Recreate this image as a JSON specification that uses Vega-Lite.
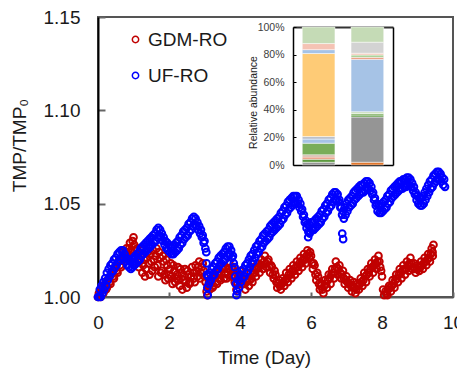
{
  "$schema": "https://vega.github.io/schema/vega-lite/v6.json",
  "autosize": "none",
  "width": 355,
  "height": 280,
  "padding": {"left": 98, "top": 17, "right": 4, "bottom": 72},
  "background": "white",
  "config": {
    "view": {"stroke": "#555555", "strokeWidth": 2},
    "font": "Liberation Sans, Arial, sans-serif",
    "axis": {"grid": false}
  },
  "datasets": {
    "abund": [
      {"sample": "GDM-RO", "taxon": "T10", "share": 0.020, "k": 1},
      {"sample": "GDM-RO", "taxon": "T09", "share": 0.022, "k": 2},
      {"sample": "GDM-RO", "taxon": "T08", "share": 0.016, "k": 3},
      {"sample": "GDM-RO", "taxon": "T07", "share": 0.016, "k": 4},
      {"sample": "GDM-RO", "taxon": "T06", "share": 0.084, "k": 5},
      {"sample": "GDM-RO", "taxon": "T03", "share": 0.030, "k": 6},
      {"sample": "GDM-RO", "taxon": "T05", "share": 0.018, "k": 7},
      {"sample": "GDM-RO", "taxon": "T04", "share": 0.602, "k": 8},
      {"sample": "GDM-RO", "taxon": "T03", "share": 0.028, "k": 9},
      {"sample": "GDM-RO", "taxon": "T02", "share": 0.044, "k": 10},
      {"sample": "GDM-RO", "taxon": "T01", "share": 0.120, "k": 11},
      {"sample": "UF-RO", "taxon": "T11", "share": 0.020, "k": 1},
      {"sample": "UF-RO", "taxon": "T10", "share": 0.328, "k": 2},
      {"sample": "UF-RO", "taxon": "T09", "share": 0.014, "k": 3},
      {"sample": "UF-RO", "taxon": "T06", "share": 0.011, "k": 4},
      {"sample": "UF-RO", "taxon": "T01", "share": 0.013, "k": 5},
      {"sample": "UF-RO", "taxon": "T03", "share": 0.380, "k": 6},
      {"sample": "UF-RO", "taxon": "T08", "share": 0.014, "k": 7},
      {"sample": "UF-RO", "taxon": "T13", "share": 0.017, "k": 8},
      {"sample": "UF-RO", "taxon": "T02", "share": 0.013, "k": 9},
      {"sample": "UF-RO", "taxon": "T12", "share": 0.080, "k": 10},
      {"sample": "UF-RO", "taxon": "T01", "share": 0.110, "k": 11}
    ],
    "tmp": [
      {"Series":"GDM-RO","Day":0.00,"TMP":1.000},{"Series":"GDM-RO","Day":0.05,"TMP":1.001},{"Series":"GDM-RO","Day":0.10,"TMP":1.004},{"Series":"GDM-RO","Day":0.15,"TMP":1.002},{"Series":"GDM-RO","Day":0.20,"TMP":1.007},{"Series":"GDM-RO","Day":0.25,"TMP":1.005},{"Series":"GDM-RO","Day":0.30,"TMP":1.010},{"Series":"GDM-RO","Day":0.35,"TMP":1.007},{"Series":"GDM-RO","Day":0.40,"TMP":1.013},{"Series":"GDM-RO","Day":0.45,"TMP":1.010},
      {"Series":"GDM-RO","Day":0.50,"TMP":1.017},{"Series":"GDM-RO","Day":0.55,"TMP":1.013},{"Series":"GDM-RO","Day":0.60,"TMP":1.020},{"Series":"GDM-RO","Day":0.65,"TMP":1.016},{"Series":"GDM-RO","Day":0.70,"TMP":1.024},{"Series":"GDM-RO","Day":0.75,"TMP":1.019},{"Series":"GDM-RO","Day":0.80,"TMP":1.026},{"Series":"GDM-RO","Day":0.85,"TMP":1.021},{"Series":"GDM-RO","Day":0.90,"TMP":1.029},{"Series":"GDM-RO","Day":0.95,"TMP":1.024},
      {"Series":"GDM-RO","Day":1.00,"TMP":1.032},{"Series":"GDM-RO","Day":1.02,"TMP":1.028},{"Series":"GDM-RO","Day":1.05,"TMP":1.021},{"Series":"GDM-RO","Day":1.10,"TMP":1.026},{"Series":"GDM-RO","Day":1.15,"TMP":1.016},{"Series":"GDM-RO","Day":1.20,"TMP":1.022},{"Series":"GDM-RO","Day":1.25,"TMP":1.013},{"Series":"GDM-RO","Day":1.30,"TMP":1.020},{"Series":"GDM-RO","Day":1.35,"TMP":1.015},{"Series":"GDM-RO","Day":1.40,"TMP":1.024},
      {"Series":"GDM-RO","Day":1.45,"TMP":1.012},{"Series":"GDM-RO","Day":1.50,"TMP":1.019},{"Series":"GDM-RO","Day":1.55,"TMP":1.025},{"Series":"GDM-RO","Day":1.60,"TMP":1.016},{"Series":"GDM-RO","Day":1.65,"TMP":1.026},{"Series":"GDM-RO","Day":1.70,"TMP":1.011},{"Series":"GDM-RO","Day":1.75,"TMP":1.021},{"Series":"GDM-RO","Day":1.80,"TMP":1.014},{"Series":"GDM-RO","Day":1.85,"TMP":1.019},{"Series":"GDM-RO","Day":1.90,"TMP":1.009},
      {"Series":"GDM-RO","Day":1.95,"TMP":1.017},{"Series":"GDM-RO","Day":2.00,"TMP":1.012},{"Series":"GDM-RO","Day":2.05,"TMP":1.018},{"Series":"GDM-RO","Day":2.10,"TMP":1.007},{"Series":"GDM-RO","Day":2.15,"TMP":1.014},{"Series":"GDM-RO","Day":2.20,"TMP":1.010},{"Series":"GDM-RO","Day":2.25,"TMP":1.016},{"Series":"GDM-RO","Day":2.30,"TMP":1.006},{"Series":"GDM-RO","Day":2.35,"TMP":1.013},{"Series":"GDM-RO","Day":2.40,"TMP":1.009},
      {"Series":"GDM-RO","Day":2.45,"TMP":1.015},{"Series":"GDM-RO","Day":2.50,"TMP":1.005},{"Series":"GDM-RO","Day":2.55,"TMP":1.012},{"Series":"GDM-RO","Day":2.60,"TMP":1.008},{"Series":"GDM-RO","Day":2.65,"TMP":1.016},{"Series":"GDM-RO","Day":2.70,"TMP":1.010},{"Series":"GDM-RO","Day":2.75,"TMP":1.017},{"Series":"GDM-RO","Day":2.80,"TMP":1.011},{"Series":"GDM-RO","Day":2.85,"TMP":1.019},{"Series":"GDM-RO","Day":2.90,"TMP":1.013},
      {"Series":"GDM-RO","Day":2.95,"TMP":1.018},{"Series":"GDM-RO","Day":3.00,"TMP":1.011},{"Series":"GDM-RO","Day":3.03,"TMP":1.008},{"Series":"GDM-RO","Day":3.06,"TMP":1.003},{"Series":"GDM-RO","Day":3.08,"TMP":1.001},{"Series":"GDM-RO","Day":3.10,"TMP":1.006},{"Series":"GDM-RO","Day":3.15,"TMP":1.004},{"Series":"GDM-RO","Day":3.20,"TMP":1.009},{"Series":"GDM-RO","Day":3.25,"TMP":1.006},{"Series":"GDM-RO","Day":3.30,"TMP":1.011},
      {"Series":"GDM-RO","Day":3.35,"TMP":1.007},{"Series":"GDM-RO","Day":3.40,"TMP":1.013},{"Series":"GDM-RO","Day":3.45,"TMP":1.009},{"Series":"GDM-RO","Day":3.50,"TMP":1.015},{"Series":"GDM-RO","Day":3.55,"TMP":1.010},{"Series":"GDM-RO","Day":3.60,"TMP":1.016},{"Series":"GDM-RO","Day":3.65,"TMP":1.012},{"Series":"GDM-RO","Day":3.70,"TMP":1.018},{"Series":"GDM-RO","Day":3.75,"TMP":1.011},{"Series":"GDM-RO","Day":3.80,"TMP":1.015},
      {"Series":"GDM-RO","Day":3.85,"TMP":1.008},{"Series":"GDM-RO","Day":3.90,"TMP":1.004},{"Series":"GDM-RO","Day":3.95,"TMP":1.010},{"Series":"GDM-RO","Day":4.00,"TMP":1.014},{"Series":"GDM-RO","Day":4.05,"TMP":1.007},{"Series":"GDM-RO","Day":4.10,"TMP":1.011},{"Series":"GDM-RO","Day":4.15,"TMP":1.004},{"Series":"GDM-RO","Day":4.20,"TMP":1.009},{"Series":"GDM-RO","Day":4.25,"TMP":1.006},{"Series":"GDM-RO","Day":4.30,"TMP":1.013},
      {"Series":"GDM-RO","Day":4.35,"TMP":1.008},{"Series":"GDM-RO","Day":4.40,"TMP":1.016},{"Series":"GDM-RO","Day":4.45,"TMP":1.011},{"Series":"GDM-RO","Day":4.50,"TMP":1.018},{"Series":"GDM-RO","Day":4.55,"TMP":1.013},{"Series":"GDM-RO","Day":4.60,"TMP":1.020},{"Series":"GDM-RO","Day":4.65,"TMP":1.015},{"Series":"GDM-RO","Day":4.70,"TMP":1.022},{"Series":"GDM-RO","Day":4.75,"TMP":1.016},{"Series":"GDM-RO","Day":4.80,"TMP":1.020},
      {"Series":"GDM-RO","Day":4.85,"TMP":1.013},{"Series":"GDM-RO","Day":4.90,"TMP":1.016},{"Series":"GDM-RO","Day":4.95,"TMP":1.010},{"Series":"GDM-RO","Day":5.00,"TMP":1.012},{"Series":"GDM-RO","Day":5.05,"TMP":1.005},{"Series":"GDM-RO","Day":5.10,"TMP":1.009},{"Series":"GDM-RO","Day":5.15,"TMP":1.004},{"Series":"GDM-RO","Day":5.20,"TMP":1.010},{"Series":"GDM-RO","Day":5.25,"TMP":1.006},{"Series":"GDM-RO","Day":5.30,"TMP":1.013},
      {"Series":"GDM-RO","Day":5.35,"TMP":1.008},{"Series":"GDM-RO","Day":5.40,"TMP":1.015},{"Series":"GDM-RO","Day":5.45,"TMP":1.010},{"Series":"GDM-RO","Day":5.50,"TMP":1.017},{"Series":"GDM-RO","Day":5.55,"TMP":1.012},{"Series":"GDM-RO","Day":5.60,"TMP":1.019},{"Series":"GDM-RO","Day":5.65,"TMP":1.014},{"Series":"GDM-RO","Day":5.70,"TMP":1.021},{"Series":"GDM-RO","Day":5.75,"TMP":1.016},{"Series":"GDM-RO","Day":5.80,"TMP":1.023},
      {"Series":"GDM-RO","Day":5.85,"TMP":1.018},{"Series":"GDM-RO","Day":5.90,"TMP":1.025},{"Series":"GDM-RO","Day":5.95,"TMP":1.021},{"Series":"GDM-RO","Day":6.00,"TMP":1.022},{"Series":"GDM-RO","Day":6.05,"TMP":1.015},{"Series":"GDM-RO","Day":6.10,"TMP":1.017},{"Series":"GDM-RO","Day":6.15,"TMP":1.009},{"Series":"GDM-RO","Day":6.20,"TMP":1.011},{"Series":"GDM-RO","Day":6.25,"TMP":1.004},{"Series":"GDM-RO","Day":6.30,"TMP":1.007},
      {"Series":"GDM-RO","Day":6.35,"TMP":1.002},{"Series":"GDM-RO","Day":6.40,"TMP":1.009},{"Series":"GDM-RO","Day":6.45,"TMP":1.005},{"Series":"GDM-RO","Day":6.50,"TMP":1.012},{"Series":"GDM-RO","Day":6.55,"TMP":1.007},{"Series":"GDM-RO","Day":6.60,"TMP":1.015},{"Series":"GDM-RO","Day":6.65,"TMP":1.010},{"Series":"GDM-RO","Day":6.70,"TMP":1.019},{"Series":"GDM-RO","Day":6.75,"TMP":1.012},{"Series":"GDM-RO","Day":6.80,"TMP":1.017},
      {"Series":"GDM-RO","Day":6.85,"TMP":1.010},{"Series":"GDM-RO","Day":6.90,"TMP":1.014},{"Series":"GDM-RO","Day":6.95,"TMP":1.007},{"Series":"GDM-RO","Day":7.00,"TMP":1.011},{"Series":"GDM-RO","Day":7.05,"TMP":1.005},{"Series":"GDM-RO","Day":7.10,"TMP":1.009},{"Series":"GDM-RO","Day":7.15,"TMP":1.003},{"Series":"GDM-RO","Day":7.20,"TMP":1.008},{"Series":"GDM-RO","Day":7.25,"TMP":1.002},{"Series":"GDM-RO","Day":7.30,"TMP":1.007},
      {"Series":"GDM-RO","Day":7.35,"TMP":1.004},{"Series":"GDM-RO","Day":7.40,"TMP":1.010},{"Series":"GDM-RO","Day":7.45,"TMP":1.006},{"Series":"GDM-RO","Day":7.50,"TMP":1.013},{"Series":"GDM-RO","Day":7.55,"TMP":1.008},{"Series":"GDM-RO","Day":7.60,"TMP":1.015},{"Series":"GDM-RO","Day":7.65,"TMP":1.011},{"Series":"GDM-RO","Day":7.70,"TMP":1.018},{"Series":"GDM-RO","Day":7.75,"TMP":1.013},{"Series":"GDM-RO","Day":7.80,"TMP":1.020},
      {"Series":"GDM-RO","Day":7.85,"TMP":1.015},{"Series":"GDM-RO","Day":7.90,"TMP":1.022},{"Series":"GDM-RO","Day":7.95,"TMP":1.016},{"Series":"GDM-RO","Day":8.00,"TMP":1.011},{"Series":"GDM-RO","Day":8.03,"TMP":1.004},{"Series":"GDM-RO","Day":8.06,"TMP":1.001},{"Series":"GDM-RO","Day":8.10,"TMP":1.003},{"Series":"GDM-RO","Day":8.15,"TMP":1.001},{"Series":"GDM-RO","Day":8.20,"TMP":1.006},{"Series":"GDM-RO","Day":8.25,"TMP":1.003},
      {"Series":"GDM-RO","Day":8.30,"TMP":1.009},{"Series":"GDM-RO","Day":8.35,"TMP":1.005},{"Series":"GDM-RO","Day":8.40,"TMP":1.012},{"Series":"GDM-RO","Day":8.45,"TMP":1.008},{"Series":"GDM-RO","Day":8.50,"TMP":1.015},{"Series":"GDM-RO","Day":8.55,"TMP":1.010},{"Series":"GDM-RO","Day":8.60,"TMP":1.017},{"Series":"GDM-RO","Day":8.65,"TMP":1.012},{"Series":"GDM-RO","Day":8.70,"TMP":1.019},{"Series":"GDM-RO","Day":8.75,"TMP":1.014},
      {"Series":"GDM-RO","Day":8.80,"TMP":1.021},{"Series":"GDM-RO","Day":8.85,"TMP":1.015},{"Series":"GDM-RO","Day":8.90,"TMP":1.018},{"Series":"GDM-RO","Day":8.95,"TMP":1.013},{"Series":"GDM-RO","Day":9.00,"TMP":1.017},{"Series":"GDM-RO","Day":9.05,"TMP":1.014},{"Series":"GDM-RO","Day":9.10,"TMP":1.019},{"Series":"GDM-RO","Day":9.15,"TMP":1.015},{"Series":"GDM-RO","Day":9.20,"TMP":1.021},{"Series":"GDM-RO","Day":9.25,"TMP":1.017},
      {"Series":"GDM-RO","Day":9.30,"TMP":1.023},{"Series":"GDM-RO","Day":9.35,"TMP":1.019},{"Series":"GDM-RO","Day":9.40,"TMP":1.026},{"Series":"GDM-RO","Day":9.43,"TMP":1.022},{"Series":"GDM-RO","Day":9.45,"TMP":1.028},
      {"Series":"GDM-RO","Day":0.025,"TMP":1.002},{"Series":"GDM-RO","Day":0.075,"TMP":1.000},{"Series":"GDM-RO","Day":0.125,"TMP":1.005},{"Series":"GDM-RO","Day":0.175,"TMP":1.006},{"Series":"GDM-RO","Day":0.225,"TMP":1.004},{"Series":"GDM-RO","Day":0.275,"TMP":1.009},{"Series":"GDM-RO","Day":0.325,"TMP":1.008},{"Series":"GDM-RO","Day":0.375,"TMP":1.012},{"Series":"GDM-RO","Day":0.425,"TMP":1.011},{"Series":"GDM-RO","Day":0.475,"TMP":1.015},
      {"Series":"GDM-RO","Day":0.525,"TMP":1.014},{"Series":"GDM-RO","Day":0.575,"TMP":1.019},{"Series":"GDM-RO","Day":0.625,"TMP":1.017},{"Series":"GDM-RO","Day":0.675,"TMP":1.021},{"Series":"GDM-RO","Day":0.725,"TMP":1.020},{"Series":"GDM-RO","Day":0.775,"TMP":1.024},{"Series":"GDM-RO","Day":0.825,"TMP":1.023},{"Series":"GDM-RO","Day":0.875,"TMP":1.026},{"Series":"GDM-RO","Day":0.925,"TMP":1.025},{"Series":"GDM-RO","Day":0.975,"TMP":1.030},
      {"Series":"GDM-RO","Day":1.035,"TMP":1.025},{"Series":"GDM-RO","Day":1.075,"TMP":1.018},{"Series":"GDM-RO","Day":1.125,"TMP":1.023},{"Series":"GDM-RO","Day":1.175,"TMP":1.019},{"Series":"GDM-RO","Day":1.225,"TMP":1.025},{"Series":"GDM-RO","Day":1.275,"TMP":1.017},{"Series":"GDM-RO","Day":1.325,"TMP":1.011},{"Series":"GDM-RO","Day":1.375,"TMP":1.021},{"Series":"GDM-RO","Day":1.425,"TMP":1.018},{"Series":"GDM-RO","Day":1.475,"TMP":1.023},
      {"Series":"GDM-RO","Day":1.525,"TMP":1.014},{"Series":"GDM-RO","Day":1.575,"TMP":1.020},{"Series":"GDM-RO","Day":1.625,"TMP":1.022},{"Series":"GDM-RO","Day":1.675,"TMP":1.017},{"Series":"GDM-RO","Day":1.725,"TMP":1.024},{"Series":"GDM-RO","Day":1.775,"TMP":1.013},{"Series":"GDM-RO","Day":1.825,"TMP":1.022},{"Series":"GDM-RO","Day":1.875,"TMP":1.012},{"Series":"GDM-RO","Day":1.925,"TMP":1.020},{"Series":"GDM-RO","Day":1.975,"TMP":1.010},
      {"Series":"GDM-RO","Day":2.025,"TMP":1.015},{"Series":"GDM-RO","Day":2.075,"TMP":1.011},{"Series":"GDM-RO","Day":2.125,"TMP":1.017},{"Series":"GDM-RO","Day":2.175,"TMP":1.008},{"Series":"GDM-RO","Day":2.225,"TMP":1.012},{"Series":"GDM-RO","Day":2.275,"TMP":1.009},{"Series":"GDM-RO","Day":2.325,"TMP":1.015},{"Series":"GDM-RO","Day":2.375,"TMP":1.004},{"Series":"GDM-RO","Day":2.425,"TMP":1.011},{"Series":"GDM-RO","Day":2.475,"TMP":1.008},
      {"Series":"GDM-RO","Day":2.525,"TMP":1.014},{"Series":"GDM-RO","Day":2.575,"TMP":1.007},{"Series":"GDM-RO","Day":2.625,"TMP":1.011},{"Series":"GDM-RO","Day":2.675,"TMP":1.013},{"Series":"GDM-RO","Day":2.725,"TMP":1.008},{"Series":"GDM-RO","Day":2.775,"TMP":1.014},{"Series":"GDM-RO","Day":2.825,"TMP":1.016},{"Series":"GDM-RO","Day":2.875,"TMP":1.010},{"Series":"GDM-RO","Day":2.925,"TMP":1.016},{"Series":"GDM-RO","Day":2.975,"TMP":1.014},
      {"Series":"GDM-RO","Day":3.125,"TMP":1.008},{"Series":"GDM-RO","Day":3.175,"TMP":1.007},{"Series":"GDM-RO","Day":3.225,"TMP":1.005},{"Series":"GDM-RO","Day":3.275,"TMP":1.010},{"Series":"GDM-RO","Day":3.325,"TMP":1.008},{"Series":"GDM-RO","Day":3.375,"TMP":1.012},{"Series":"GDM-RO","Day":3.425,"TMP":1.010},{"Series":"GDM-RO","Day":3.475,"TMP":1.012},{"Series":"GDM-RO","Day":3.525,"TMP":1.016},{"Series":"GDM-RO","Day":3.575,"TMP":1.013},
      {"Series":"GDM-RO","Day":3.625,"TMP":1.010},{"Series":"GDM-RO","Day":3.675,"TMP":1.015},{"Series":"GDM-RO","Day":3.725,"TMP":1.014},{"Series":"GDM-RO","Day":3.775,"TMP":1.016},{"Series":"GDM-RO","Day":3.825,"TMP":1.011},{"Series":"GDM-RO","Day":3.925,"TMP":1.007},{"Series":"GDM-RO","Day":3.975,"TMP":1.012},{"Series":"GDM-RO","Day":4.025,"TMP":1.011},{"Series":"GDM-RO","Day":4.075,"TMP":1.009},{"Series":"GDM-RO","Day":4.125,"TMP":1.007},
      {"Series":"GDM-RO","Day":4.175,"TMP":1.008},{"Series":"GDM-RO","Day":4.225,"TMP":1.010},{"Series":"GDM-RO","Day":4.275,"TMP":1.009},{"Series":"GDM-RO","Day":4.325,"TMP":1.010},{"Series":"GDM-RO","Day":4.375,"TMP":1.013},{"Series":"GDM-RO","Day":4.425,"TMP":1.013},{"Series":"GDM-RO","Day":4.475,"TMP":1.015},{"Series":"GDM-RO","Day":4.525,"TMP":1.016},{"Series":"GDM-RO","Day":4.575,"TMP":1.017},{"Series":"GDM-RO","Day":4.625,"TMP":1.017},
      {"Series":"GDM-RO","Day":4.675,"TMP":1.019},{"Series":"GDM-RO","Day":4.725,"TMP":1.018},{"Series":"GDM-RO","Day":4.775,"TMP":1.019},{"Series":"GDM-RO","Day":4.825,"TMP":1.016},{"Series":"GDM-RO","Day":4.875,"TMP":1.017},{"Series":"GDM-RO","Day":4.925,"TMP":1.012},{"Series":"GDM-RO","Day":4.975,"TMP":1.014},{"Series":"GDM-RO","Day":5.025,"TMP":1.008},{"Series":"GDM-RO","Day":5.075,"TMP":1.007},{"Series":"GDM-RO","Day":5.125,"TMP":1.006},
      {"Series":"GDM-RO","Day":5.175,"TMP":1.007},{"Series":"GDM-RO","Day":5.225,"TMP":1.008},{"Series":"GDM-RO","Day":5.275,"TMP":1.009},{"Series":"GDM-RO","Day":5.325,"TMP":1.010},{"Series":"GDM-RO","Day":5.375,"TMP":1.012},{"Series":"GDM-RO","Day":5.425,"TMP":1.012},{"Series":"GDM-RO","Day":5.475,"TMP":1.014},{"Series":"GDM-RO","Day":5.525,"TMP":1.014},{"Series":"GDM-RO","Day":5.575,"TMP":1.016},{"Series":"GDM-RO","Day":5.625,"TMP":1.016},
      {"Series":"GDM-RO","Day":5.675,"TMP":1.018},{"Series":"GDM-RO","Day":5.725,"TMP":1.018},{"Series":"GDM-RO","Day":5.775,"TMP":1.020},{"Series":"GDM-RO","Day":5.825,"TMP":1.020},{"Series":"GDM-RO","Day":5.875,"TMP":1.022},{"Series":"GDM-RO","Day":5.925,"TMP":1.023},{"Series":"GDM-RO","Day":5.975,"TMP":1.024},{"Series":"GDM-RO","Day":6.025,"TMP":1.018},{"Series":"GDM-RO","Day":6.075,"TMP":1.018},{"Series":"GDM-RO","Day":6.125,"TMP":1.012},
      {"Series":"GDM-RO","Day":6.175,"TMP":1.013},{"Series":"GDM-RO","Day":6.225,"TMP":1.007},{"Series":"GDM-RO","Day":6.275,"TMP":1.006},{"Series":"GDM-RO","Day":6.325,"TMP":1.004},{"Series":"GDM-RO","Day":6.375,"TMP":1.006},{"Series":"GDM-RO","Day":6.425,"TMP":1.007},{"Series":"GDM-RO","Day":6.475,"TMP":1.009},{"Series":"GDM-RO","Day":6.525,"TMP":1.010},{"Series":"GDM-RO","Day":6.575,"TMP":1.012},{"Series":"GDM-RO","Day":6.625,"TMP":1.013},
      {"Series":"GDM-RO","Day":6.675,"TMP":1.015},{"Series":"GDM-RO","Day":6.725,"TMP":1.016},{"Series":"GDM-RO","Day":6.775,"TMP":1.015},{"Series":"GDM-RO","Day":6.825,"TMP":1.013},{"Series":"GDM-RO","Day":6.875,"TMP":1.012},{"Series":"GDM-RO","Day":6.925,"TMP":1.010},{"Series":"GDM-RO","Day":6.975,"TMP":1.009},{"Series":"GDM-RO","Day":7.025,"TMP":1.008},{"Series":"GDM-RO","Day":7.075,"TMP":1.007},{"Series":"GDM-RO","Day":7.125,"TMP":1.006},
      {"Series":"GDM-RO","Day":7.175,"TMP":1.005},{"Series":"GDM-RO","Day":7.225,"TMP":1.005},{"Series":"GDM-RO","Day":7.275,"TMP":1.004},{"Series":"GDM-RO","Day":7.325,"TMP":1.006},{"Series":"GDM-RO","Day":7.375,"TMP":1.007},{"Series":"GDM-RO","Day":7.425,"TMP":1.008},{"Series":"GDM-RO","Day":7.475,"TMP":1.009},{"Series":"GDM-RO","Day":7.525,"TMP":1.011},{"Series":"GDM-RO","Day":7.575,"TMP":1.012},{"Series":"GDM-RO","Day":7.625,"TMP":1.013},
      {"Series":"GDM-RO","Day":7.675,"TMP":1.015},{"Series":"GDM-RO","Day":7.725,"TMP":1.016},{"Series":"GDM-RO","Day":7.775,"TMP":1.017},{"Series":"GDM-RO","Day":7.825,"TMP":1.018},{"Series":"GDM-RO","Day":7.875,"TMP":1.019},{"Series":"GDM-RO","Day":7.925,"TMP":1.019},{"Series":"GDM-RO","Day":7.975,"TMP":1.014},{"Series":"GDM-RO","Day":8.125,"TMP":1.002},{"Series":"GDM-RO","Day":8.175,"TMP":1.004},{"Series":"GDM-RO","Day":8.225,"TMP":1.005},
      {"Series":"GDM-RO","Day":8.275,"TMP":1.006},{"Series":"GDM-RO","Day":8.325,"TMP":1.007},{"Series":"GDM-RO","Day":8.375,"TMP":1.009},{"Series":"GDM-RO","Day":8.425,"TMP":1.010},{"Series":"GDM-RO","Day":8.475,"TMP":1.012},{"Series":"GDM-RO","Day":8.525,"TMP":1.013},{"Series":"GDM-RO","Day":8.575,"TMP":1.014},{"Series":"GDM-RO","Day":8.625,"TMP":1.015},{"Series":"GDM-RO","Day":8.675,"TMP":1.015},{"Series":"GDM-RO","Day":8.725,"TMP":1.017},
      {"Series":"GDM-RO","Day":8.775,"TMP":1.018},{"Series":"GDM-RO","Day":8.825,"TMP":1.018},{"Series":"GDM-RO","Day":8.875,"TMP":1.016},{"Series":"GDM-RO","Day":8.925,"TMP":1.015},{"Series":"GDM-RO","Day":8.975,"TMP":1.015},{"Series":"GDM-RO","Day":9.025,"TMP":1.016},{"Series":"GDM-RO","Day":9.075,"TMP":1.016},{"Series":"GDM-RO","Day":9.125,"TMP":1.017},{"Series":"GDM-RO","Day":9.175,"TMP":1.018},{"Series":"GDM-RO","Day":9.225,"TMP":1.019},
      {"Series":"GDM-RO","Day":9.275,"TMP":1.020},{"Series":"GDM-RO","Day":9.325,"TMP":1.021},{"Series":"GDM-RO","Day":9.375,"TMP":1.023},{"Series":"GDM-RO","Day":9.425,"TMP":1.024},
      {"Series":"UF-RO","Day":0.00,"TMP":1.000},{"Series":"UF-RO","Day":0.025,"TMP":1.000},{"Series":"UF-RO","Day":0.05,"TMP":1.004},{"Series":"UF-RO","Day":0.075,"TMP":1.000},{"Series":"UF-RO","Day":0.10,"TMP":1.006},{"Series":"UF-RO","Day":0.125,"TMP":1.002},{"Series":"UF-RO","Day":0.15,"TMP":1.008},{"Series":"UF-RO","Day":0.175,"TMP":1.004},{"Series":"UF-RO","Day":0.20,"TMP":1.010},{"Series":"UF-RO","Day":0.225,"TMP":1.006},
      {"Series":"UF-RO","Day":0.25,"TMP":1.013},{"Series":"UF-RO","Day":0.275,"TMP":1.009},{"Series":"UF-RO","Day":0.30,"TMP":1.015},{"Series":"UF-RO","Day":0.325,"TMP":1.011},{"Series":"UF-RO","Day":0.35,"TMP":1.017},{"Series":"UF-RO","Day":0.375,"TMP":1.013},{"Series":"UF-RO","Day":0.40,"TMP":1.018},{"Series":"UF-RO","Day":0.425,"TMP":1.014},{"Series":"UF-RO","Day":0.45,"TMP":1.020},{"Series":"UF-RO","Day":0.475,"TMP":1.016},
      {"Series":"UF-RO","Day":0.50,"TMP":1.021},{"Series":"UF-RO","Day":0.525,"TMP":1.017},{"Series":"UF-RO","Day":0.55,"TMP":1.023},{"Series":"UF-RO","Day":0.575,"TMP":1.019},{"Series":"UF-RO","Day":0.60,"TMP":1.024},{"Series":"UF-RO","Day":0.625,"TMP":1.020},{"Series":"UF-RO","Day":0.65,"TMP":1.025},{"Series":"UF-RO","Day":0.675,"TMP":1.021},{"Series":"UF-RO","Day":0.70,"TMP":1.025},{"Series":"UF-RO","Day":0.725,"TMP":1.021},
      {"Series":"UF-RO","Day":0.75,"TMP":1.023},{"Series":"UF-RO","Day":0.775,"TMP":1.019},{"Series":"UF-RO","Day":0.80,"TMP":1.021},{"Series":"UF-RO","Day":0.825,"TMP":1.017},{"Series":"UF-RO","Day":0.85,"TMP":1.020},{"Series":"UF-RO","Day":0.875,"TMP":1.016},{"Series":"UF-RO","Day":0.90,"TMP":1.019},{"Series":"UF-RO","Day":0.925,"TMP":1.015},{"Series":"UF-RO","Day":0.95,"TMP":1.020},{"Series":"UF-RO","Day":0.975,"TMP":1.016},
      {"Series":"UF-RO","Day":1.00,"TMP":1.021},{"Series":"UF-RO","Day":1.025,"TMP":1.017},{"Series":"UF-RO","Day":1.05,"TMP":1.022},{"Series":"UF-RO","Day":1.075,"TMP":1.018},{"Series":"UF-RO","Day":1.10,"TMP":1.023},{"Series":"UF-RO","Day":1.125,"TMP":1.019},{"Series":"UF-RO","Day":1.15,"TMP":1.024},{"Series":"UF-RO","Day":1.175,"TMP":1.020},{"Series":"UF-RO","Day":1.20,"TMP":1.026},{"Series":"UF-RO","Day":1.225,"TMP":1.022},
      {"Series":"UF-RO","Day":1.25,"TMP":1.027},{"Series":"UF-RO","Day":1.275,"TMP":1.023},{"Series":"UF-RO","Day":1.30,"TMP":1.028},{"Series":"UF-RO","Day":1.325,"TMP":1.024},{"Series":"UF-RO","Day":1.35,"TMP":1.029},{"Series":"UF-RO","Day":1.375,"TMP":1.025},{"Series":"UF-RO","Day":1.40,"TMP":1.030},{"Series":"UF-RO","Day":1.425,"TMP":1.026},{"Series":"UF-RO","Day":1.45,"TMP":1.031},{"Series":"UF-RO","Day":1.475,"TMP":1.027},
      {"Series":"UF-RO","Day":1.50,"TMP":1.032},{"Series":"UF-RO","Day":1.525,"TMP":1.028},{"Series":"UF-RO","Day":1.55,"TMP":1.033},{"Series":"UF-RO","Day":1.575,"TMP":1.029},{"Series":"UF-RO","Day":1.60,"TMP":1.034},{"Series":"UF-RO","Day":1.625,"TMP":1.030},{"Series":"UF-RO","Day":1.65,"TMP":1.036},{"Series":"UF-RO","Day":1.675,"TMP":1.032},{"Series":"UF-RO","Day":1.70,"TMP":1.037},{"Series":"UF-RO","Day":1.725,"TMP":1.033},
      {"Series":"UF-RO","Day":1.75,"TMP":1.036},{"Series":"UF-RO","Day":1.775,"TMP":1.032},{"Series":"UF-RO","Day":1.80,"TMP":1.034},{"Series":"UF-RO","Day":1.825,"TMP":1.030},{"Series":"UF-RO","Day":1.85,"TMP":1.032},{"Series":"UF-RO","Day":1.875,"TMP":1.028},{"Series":"UF-RO","Day":1.90,"TMP":1.030},{"Series":"UF-RO","Day":1.925,"TMP":1.026},{"Series":"UF-RO","Day":1.95,"TMP":1.029},{"Series":"UF-RO","Day":1.975,"TMP":1.025},
      {"Series":"UF-RO","Day":2.00,"TMP":1.028},{"Series":"UF-RO","Day":2.025,"TMP":1.024},{"Series":"UF-RO","Day":2.05,"TMP":1.027},{"Series":"UF-RO","Day":2.075,"TMP":1.023},{"Series":"UF-RO","Day":2.10,"TMP":1.027},{"Series":"UF-RO","Day":2.125,"TMP":1.023},{"Series":"UF-RO","Day":2.15,"TMP":1.028},{"Series":"UF-RO","Day":2.175,"TMP":1.024},{"Series":"UF-RO","Day":2.20,"TMP":1.029},{"Series":"UF-RO","Day":2.225,"TMP":1.025},
      {"Series":"UF-RO","Day":2.25,"TMP":1.030},{"Series":"UF-RO","Day":2.275,"TMP":1.026},{"Series":"UF-RO","Day":2.30,"TMP":1.032},{"Series":"UF-RO","Day":2.325,"TMP":1.028},{"Series":"UF-RO","Day":2.35,"TMP":1.033},{"Series":"UF-RO","Day":2.375,"TMP":1.029},{"Series":"UF-RO","Day":2.40,"TMP":1.035},{"Series":"UF-RO","Day":2.425,"TMP":1.031},{"Series":"UF-RO","Day":2.45,"TMP":1.036},{"Series":"UF-RO","Day":2.475,"TMP":1.032},
      {"Series":"UF-RO","Day":2.50,"TMP":1.037},{"Series":"UF-RO","Day":2.525,"TMP":1.033},{"Series":"UF-RO","Day":2.55,"TMP":1.039},{"Series":"UF-RO","Day":2.575,"TMP":1.035},{"Series":"UF-RO","Day":2.60,"TMP":1.040},{"Series":"UF-RO","Day":2.625,"TMP":1.036},{"Series":"UF-RO","Day":2.65,"TMP":1.042},{"Series":"UF-RO","Day":2.675,"TMP":1.038},{"Series":"UF-RO","Day":2.70,"TMP":1.043},{"Series":"UF-RO","Day":2.725,"TMP":1.039},
      {"Series":"UF-RO","Day":2.75,"TMP":1.042},{"Series":"UF-RO","Day":2.775,"TMP":1.038},{"Series":"UF-RO","Day":2.80,"TMP":1.040},{"Series":"UF-RO","Day":2.825,"TMP":1.036},{"Series":"UF-RO","Day":2.85,"TMP":1.038},{"Series":"UF-RO","Day":2.875,"TMP":1.034},{"Series":"UF-RO","Day":2.90,"TMP":1.036},{"Series":"UF-RO","Day":2.925,"TMP":1.032},{"Series":"UF-RO","Day":2.95,"TMP":1.033},{"Series":"UF-RO","Day":2.975,"TMP":1.029},
      {"Series":"UF-RO","Day":3.00,"TMP":1.030},{"Series":"UF-RO","Day":3.025,"TMP":1.026},{"Series":"UF-RO","Day":3.05,"TMP":1.024},{"Series":"UF-RO","Day":3.06,"TMP":1.018},{"Series":"UF-RO","Day":3.07,"TMP":1.012},{"Series":"UF-RO","Day":3.08,"TMP":1.005},{"Series":"UF-RO","Day":3.09,"TMP":1.001},{"Series":"UF-RO","Day":3.10,"TMP":1.011},{"Series":"UF-RO","Day":3.125,"TMP":1.007},{"Series":"UF-RO","Day":3.15,"TMP":1.013},
      {"Series":"UF-RO","Day":3.175,"TMP":1.009},{"Series":"UF-RO","Day":3.20,"TMP":1.015},{"Series":"UF-RO","Day":3.225,"TMP":1.011},{"Series":"UF-RO","Day":3.25,"TMP":1.016},{"Series":"UF-RO","Day":3.275,"TMP":1.012},{"Series":"UF-RO","Day":3.30,"TMP":1.018},{"Series":"UF-RO","Day":3.325,"TMP":1.014},{"Series":"UF-RO","Day":3.35,"TMP":1.019},{"Series":"UF-RO","Day":3.375,"TMP":1.015},{"Series":"UF-RO","Day":3.40,"TMP":1.021},
      {"Series":"UF-RO","Day":3.425,"TMP":1.017},{"Series":"UF-RO","Day":3.45,"TMP":1.022},{"Series":"UF-RO","Day":3.475,"TMP":1.018},{"Series":"UF-RO","Day":3.50,"TMP":1.023},{"Series":"UF-RO","Day":3.525,"TMP":1.019},{"Series":"UF-RO","Day":3.55,"TMP":1.024},{"Series":"UF-RO","Day":3.575,"TMP":1.020},{"Series":"UF-RO","Day":3.60,"TMP":1.026},{"Series":"UF-RO","Day":3.625,"TMP":1.022},{"Series":"UF-RO","Day":3.65,"TMP":1.027},
      {"Series":"UF-RO","Day":3.675,"TMP":1.023},{"Series":"UF-RO","Day":3.70,"TMP":1.027},{"Series":"UF-RO","Day":3.725,"TMP":1.023},{"Series":"UF-RO","Day":3.75,"TMP":1.025},{"Series":"UF-RO","Day":3.775,"TMP":1.021},{"Series":"UF-RO","Day":3.80,"TMP":1.022},{"Series":"UF-RO","Day":3.825,"TMP":1.018},{"Series":"UF-RO","Day":3.85,"TMP":1.016},{"Series":"UF-RO","Day":3.865,"TMP":1.011},{"Series":"UF-RO","Day":3.88,"TMP":1.007},
      {"Series":"UF-RO","Day":3.90,"TMP":1.001},{"Series":"UF-RO","Day":3.92,"TMP":1.003},{"Series":"UF-RO","Day":3.95,"TMP":1.009},{"Series":"UF-RO","Day":3.975,"TMP":1.005},{"Series":"UF-RO","Day":4.00,"TMP":1.012},{"Series":"UF-RO","Day":4.025,"TMP":1.008},{"Series":"UF-RO","Day":4.05,"TMP":1.014},{"Series":"UF-RO","Day":4.075,"TMP":1.010},{"Series":"UF-RO","Day":4.10,"TMP":1.015},{"Series":"UF-RO","Day":4.125,"TMP":1.011},
      {"Series":"UF-RO","Day":4.15,"TMP":1.017},{"Series":"UF-RO","Day":4.175,"TMP":1.013},{"Series":"UF-RO","Day":4.20,"TMP":1.018},{"Series":"UF-RO","Day":4.225,"TMP":1.014},{"Series":"UF-RO","Day":4.25,"TMP":1.020},{"Series":"UF-RO","Day":4.275,"TMP":1.016},{"Series":"UF-RO","Day":4.30,"TMP":1.022},{"Series":"UF-RO","Day":4.325,"TMP":1.018},{"Series":"UF-RO","Day":4.35,"TMP":1.023},{"Series":"UF-RO","Day":4.375,"TMP":1.019},
      {"Series":"UF-RO","Day":4.40,"TMP":1.025},{"Series":"UF-RO","Day":4.425,"TMP":1.021},{"Series":"UF-RO","Day":4.45,"TMP":1.027},{"Series":"UF-RO","Day":4.475,"TMP":1.023},{"Series":"UF-RO","Day":4.50,"TMP":1.028},{"Series":"UF-RO","Day":4.525,"TMP":1.024},{"Series":"UF-RO","Day":4.55,"TMP":1.030},{"Series":"UF-RO","Day":4.575,"TMP":1.026},{"Series":"UF-RO","Day":4.60,"TMP":1.031},{"Series":"UF-RO","Day":4.625,"TMP":1.027},
      {"Series":"UF-RO","Day":4.65,"TMP":1.033},{"Series":"UF-RO","Day":4.675,"TMP":1.029},{"Series":"UF-RO","Day":4.70,"TMP":1.034},{"Series":"UF-RO","Day":4.725,"TMP":1.030},{"Series":"UF-RO","Day":4.75,"TMP":1.035},{"Series":"UF-RO","Day":4.775,"TMP":1.031},{"Series":"UF-RO","Day":4.80,"TMP":1.036},{"Series":"UF-RO","Day":4.825,"TMP":1.032},{"Series":"UF-RO","Day":4.85,"TMP":1.038},{"Series":"UF-RO","Day":4.875,"TMP":1.034},
      {"Series":"UF-RO","Day":4.90,"TMP":1.039},{"Series":"UF-RO","Day":4.925,"TMP":1.035},{"Series":"UF-RO","Day":4.95,"TMP":1.040},{"Series":"UF-RO","Day":4.975,"TMP":1.036},{"Series":"UF-RO","Day":5.00,"TMP":1.041},{"Series":"UF-RO","Day":5.025,"TMP":1.037},{"Series":"UF-RO","Day":5.05,"TMP":1.042},{"Series":"UF-RO","Day":5.075,"TMP":1.038},{"Series":"UF-RO","Day":5.10,"TMP":1.043},{"Series":"UF-RO","Day":5.125,"TMP":1.039},
      {"Series":"UF-RO","Day":5.15,"TMP":1.045},{"Series":"UF-RO","Day":5.175,"TMP":1.041},{"Series":"UF-RO","Day":5.20,"TMP":1.046},{"Series":"UF-RO","Day":5.225,"TMP":1.042},{"Series":"UF-RO","Day":5.25,"TMP":1.048},{"Series":"UF-RO","Day":5.275,"TMP":1.044},{"Series":"UF-RO","Day":5.30,"TMP":1.049},{"Series":"UF-RO","Day":5.325,"TMP":1.045},{"Series":"UF-RO","Day":5.35,"TMP":1.051},{"Series":"UF-RO","Day":5.375,"TMP":1.047},
      {"Series":"UF-RO","Day":5.40,"TMP":1.052},{"Series":"UF-RO","Day":5.425,"TMP":1.048},{"Series":"UF-RO","Day":5.45,"TMP":1.053},{"Series":"UF-RO","Day":5.475,"TMP":1.049},{"Series":"UF-RO","Day":5.50,"TMP":1.054},{"Series":"UF-RO","Day":5.525,"TMP":1.050},{"Series":"UF-RO","Day":5.55,"TMP":1.054},{"Series":"UF-RO","Day":5.575,"TMP":1.050},{"Series":"UF-RO","Day":5.60,"TMP":1.054},{"Series":"UF-RO","Day":5.625,"TMP":1.050},
      {"Series":"UF-RO","Day":5.65,"TMP":1.052},{"Series":"UF-RO","Day":5.675,"TMP":1.048},{"Series":"UF-RO","Day":5.70,"TMP":1.050},{"Series":"UF-RO","Day":5.725,"TMP":1.046},{"Series":"UF-RO","Day":5.75,"TMP":1.047},{"Series":"UF-RO","Day":5.775,"TMP":1.043},{"Series":"UF-RO","Day":5.80,"TMP":1.044},{"Series":"UF-RO","Day":5.825,"TMP":1.040},{"Series":"UF-RO","Day":5.85,"TMP":1.041},{"Series":"UF-RO","Day":5.875,"TMP":1.037},
      {"Series":"UF-RO","Day":5.90,"TMP":1.039},{"Series":"UF-RO","Day":5.92,"TMP":1.032},{"Series":"UF-RO","Day":5.925,"TMP":1.035},{"Series":"UF-RO","Day":5.95,"TMP":1.039},{"Series":"UF-RO","Day":5.96,"TMP":1.034},{"Series":"UF-RO","Day":5.975,"TMP":1.035},{"Series":"UF-RO","Day":6.00,"TMP":1.040},{"Series":"UF-RO","Day":6.025,"TMP":1.036},{"Series":"UF-RO","Day":6.05,"TMP":1.040},{"Series":"UF-RO","Day":6.075,"TMP":1.036},
      {"Series":"UF-RO","Day":6.10,"TMP":1.041},{"Series":"UF-RO","Day":6.125,"TMP":1.037},{"Series":"UF-RO","Day":6.15,"TMP":1.042},{"Series":"UF-RO","Day":6.175,"TMP":1.038},{"Series":"UF-RO","Day":6.20,"TMP":1.043},{"Series":"UF-RO","Day":6.225,"TMP":1.039},{"Series":"UF-RO","Day":6.25,"TMP":1.044},{"Series":"UF-RO","Day":6.275,"TMP":1.040},{"Series":"UF-RO","Day":6.30,"TMP":1.046},{"Series":"UF-RO","Day":6.325,"TMP":1.042},
      {"Series":"UF-RO","Day":6.35,"TMP":1.047},{"Series":"UF-RO","Day":6.375,"TMP":1.043},{"Series":"UF-RO","Day":6.40,"TMP":1.049},{"Series":"UF-RO","Day":6.425,"TMP":1.045},{"Series":"UF-RO","Day":6.45,"TMP":1.050},{"Series":"UF-RO","Day":6.475,"TMP":1.046},{"Series":"UF-RO","Day":6.50,"TMP":1.052},{"Series":"UF-RO","Day":6.525,"TMP":1.048},{"Series":"UF-RO","Day":6.55,"TMP":1.053},{"Series":"UF-RO","Day":6.575,"TMP":1.049},
      {"Series":"UF-RO","Day":6.60,"TMP":1.055},{"Series":"UF-RO","Day":6.625,"TMP":1.051},{"Series":"UF-RO","Day":6.65,"TMP":1.056},{"Series":"UF-RO","Day":6.675,"TMP":1.052},{"Series":"UF-RO","Day":6.70,"TMP":1.056},{"Series":"UF-RO","Day":6.725,"TMP":1.052},{"Series":"UF-RO","Day":6.75,"TMP":1.055},{"Series":"UF-RO","Day":6.775,"TMP":1.051},{"Series":"UF-RO","Day":6.80,"TMP":1.052},{"Series":"UF-RO","Day":6.825,"TMP":1.048},
      {"Series":"UF-RO","Day":6.85,"TMP":1.048},{"Series":"UF-RO","Day":6.875,"TMP":1.044},{"Series":"UF-RO","Day":6.88,"TMP":1.034},{"Series":"UF-RO","Day":6.90,"TMP":1.046},{"Series":"UF-RO","Day":6.905,"TMP":1.031},{"Series":"UF-RO","Day":6.925,"TMP":1.042},{"Series":"UF-RO","Day":6.95,"TMP":1.048},{"Series":"UF-RO","Day":6.975,"TMP":1.044},{"Series":"UF-RO","Day":7.00,"TMP":1.050},{"Series":"UF-RO","Day":7.025,"TMP":1.046},
      {"Series":"UF-RO","Day":7.05,"TMP":1.052},{"Series":"UF-RO","Day":7.075,"TMP":1.048},{"Series":"UF-RO","Day":7.10,"TMP":1.053},{"Series":"UF-RO","Day":7.125,"TMP":1.049},{"Series":"UF-RO","Day":7.15,"TMP":1.054},{"Series":"UF-RO","Day":7.175,"TMP":1.050},{"Series":"UF-RO","Day":7.20,"TMP":1.056},{"Series":"UF-RO","Day":7.225,"TMP":1.052},{"Series":"UF-RO","Day":7.25,"TMP":1.057},{"Series":"UF-RO","Day":7.275,"TMP":1.053},
      {"Series":"UF-RO","Day":7.30,"TMP":1.058},{"Series":"UF-RO","Day":7.325,"TMP":1.054},{"Series":"UF-RO","Day":7.35,"TMP":1.059},{"Series":"UF-RO","Day":7.375,"TMP":1.055},{"Series":"UF-RO","Day":7.40,"TMP":1.060},{"Series":"UF-RO","Day":7.425,"TMP":1.056},{"Series":"UF-RO","Day":7.45,"TMP":1.060},{"Series":"UF-RO","Day":7.475,"TMP":1.056},{"Series":"UF-RO","Day":7.50,"TMP":1.061},{"Series":"UF-RO","Day":7.525,"TMP":1.057},
      {"Series":"UF-RO","Day":7.55,"TMP":1.062},{"Series":"UF-RO","Day":7.575,"TMP":1.058},{"Series":"UF-RO","Day":7.60,"TMP":1.062},{"Series":"UF-RO","Day":7.625,"TMP":1.058},{"Series":"UF-RO","Day":7.65,"TMP":1.061},{"Series":"UF-RO","Day":7.675,"TMP":1.057},{"Series":"UF-RO","Day":7.70,"TMP":1.059},{"Series":"UF-RO","Day":7.725,"TMP":1.055},{"Series":"UF-RO","Day":7.75,"TMP":1.056},{"Series":"UF-RO","Day":7.775,"TMP":1.052},
      {"Series":"UF-RO","Day":7.80,"TMP":1.053},{"Series":"UF-RO","Day":7.825,"TMP":1.049},{"Series":"UF-RO","Day":7.85,"TMP":1.050},{"Series":"UF-RO","Day":7.875,"TMP":1.046},{"Series":"UF-RO","Day":7.90,"TMP":1.049},{"Series":"UF-RO","Day":7.925,"TMP":1.045},{"Series":"UF-RO","Day":7.95,"TMP":1.049},{"Series":"UF-RO","Day":7.975,"TMP":1.045},{"Series":"UF-RO","Day":8.00,"TMP":1.050},{"Series":"UF-RO","Day":8.025,"TMP":1.046},
      {"Series":"UF-RO","Day":8.05,"TMP":1.051},{"Series":"UF-RO","Day":8.075,"TMP":1.047},{"Series":"UF-RO","Day":8.10,"TMP":1.052},{"Series":"UF-RO","Day":8.125,"TMP":1.048},{"Series":"UF-RO","Day":8.15,"TMP":1.054},{"Series":"UF-RO","Day":8.175,"TMP":1.050},{"Series":"UF-RO","Day":8.20,"TMP":1.055},{"Series":"UF-RO","Day":8.225,"TMP":1.051},{"Series":"UF-RO","Day":8.25,"TMP":1.057},{"Series":"UF-RO","Day":8.275,"TMP":1.053},
      {"Series":"UF-RO","Day":8.30,"TMP":1.058},{"Series":"UF-RO","Day":8.325,"TMP":1.054},{"Series":"UF-RO","Day":8.35,"TMP":1.059},{"Series":"UF-RO","Day":8.375,"TMP":1.055},{"Series":"UF-RO","Day":8.40,"TMP":1.060},{"Series":"UF-RO","Day":8.425,"TMP":1.056},{"Series":"UF-RO","Day":8.45,"TMP":1.061},{"Series":"UF-RO","Day":8.475,"TMP":1.057},{"Series":"UF-RO","Day":8.50,"TMP":1.062},{"Series":"UF-RO","Day":8.525,"TMP":1.058},
      {"Series":"UF-RO","Day":8.55,"TMP":1.062},{"Series":"UF-RO","Day":8.575,"TMP":1.058},{"Series":"UF-RO","Day":8.60,"TMP":1.063},{"Series":"UF-RO","Day":8.625,"TMP":1.059},{"Series":"UF-RO","Day":8.65,"TMP":1.063},{"Series":"UF-RO","Day":8.675,"TMP":1.059},{"Series":"UF-RO","Day":8.70,"TMP":1.064},{"Series":"UF-RO","Day":8.725,"TMP":1.060},{"Series":"UF-RO","Day":8.75,"TMP":1.064},{"Series":"UF-RO","Day":8.775,"TMP":1.060},
      {"Series":"UF-RO","Day":8.80,"TMP":1.063},{"Series":"UF-RO","Day":8.825,"TMP":1.059},{"Series":"UF-RO","Day":8.85,"TMP":1.061},{"Series":"UF-RO","Day":8.875,"TMP":1.057},{"Series":"UF-RO","Day":8.90,"TMP":1.059},{"Series":"UF-RO","Day":8.925,"TMP":1.055},{"Series":"UF-RO","Day":8.95,"TMP":1.056},{"Series":"UF-RO","Day":8.975,"TMP":1.052},{"Series":"UF-RO","Day":9.00,"TMP":1.054},{"Series":"UF-RO","Day":9.025,"TMP":1.050},
      {"Series":"UF-RO","Day":9.05,"TMP":1.053},{"Series":"UF-RO","Day":9.075,"TMP":1.049},{"Series":"UF-RO","Day":9.10,"TMP":1.053},{"Series":"UF-RO","Day":9.125,"TMP":1.049},{"Series":"UF-RO","Day":9.15,"TMP":1.054},{"Series":"UF-RO","Day":9.175,"TMP":1.050},{"Series":"UF-RO","Day":9.20,"TMP":1.056},{"Series":"UF-RO","Day":9.225,"TMP":1.052},{"Series":"UF-RO","Day":9.25,"TMP":1.058},{"Series":"UF-RO","Day":9.275,"TMP":1.054},
      {"Series":"UF-RO","Day":9.30,"TMP":1.060},{"Series":"UF-RO","Day":9.325,"TMP":1.056},{"Series":"UF-RO","Day":9.35,"TMP":1.062},{"Series":"UF-RO","Day":9.375,"TMP":1.058},{"Series":"UF-RO","Day":9.40,"TMP":1.063},{"Series":"UF-RO","Day":9.425,"TMP":1.059},{"Series":"UF-RO","Day":9.45,"TMP":1.065},{"Series":"UF-RO","Day":9.475,"TMP":1.061},{"Series":"UF-RO","Day":9.50,"TMP":1.066},{"Series":"UF-RO","Day":9.525,"TMP":1.062},
      {"Series":"UF-RO","Day":9.55,"TMP":1.067},{"Series":"UF-RO","Day":9.575,"TMP":1.063},{"Series":"UF-RO","Day":9.60,"TMP":1.067},{"Series":"UF-RO","Day":9.625,"TMP":1.063},{"Series":"UF-RO","Day":9.65,"TMP":1.066},{"Series":"UF-RO","Day":9.675,"TMP":1.062},{"Series":"UF-RO","Day":9.70,"TMP":1.064},{"Series":"UF-RO","Day":9.725,"TMP":1.060},{"Series":"UF-RO","Day":9.75,"TMP":1.063},{"Series":"UF-RO","Day":9.775,"TMP":1.059}
    ]
  },
  "layer": [
    {
      "data": {"name": "tmp"},
      "mark": {"type": "point", "filled": false, "size": 45, "strokeWidth": 2, "opacity": 1},
      "encoding": {
        "x": {
          "field": "Day", "type": "quantitative",
          "scale": {"domain": [0, 10], "nice": false},
          "axis": {
            "values": [0, 2, 4, 6, 8, 10], "title": "Time (Day)", "labelFlush": false,
            "labelFontSize": 19, "labelColor": "#1a1a1a", "labelPadding": 21,
            "domainColor": "#555555", "domainWidth": 2,
            "tickSize": -5, "tickColor": "#666666", "tickWidth": 2,
            "titleFontSize": 19, "titleFontWeight": "normal", "titleColor": "#1a1a1a",
            "titleX": 166, "titleY": 66, "titleAlign": "center", "titleBaseline": "alphabetic", "titleAnchor": null
          }
        },
        "y": {
          "field": "TMP", "type": "quantitative",
          "scale": {"domain": [1.0, 1.15], "nice": false, "zero": false},
          "axis": {
            "values": [1.0, 1.05, 1.1, 1.15], "format": ".2f", "title": "TMP/TMP₀",
            "labelFontSize": 19, "labelColor": "#1a1a1a", "labelPadding": 25,
            "domainColor": "#000000", "domainWidth": 2,
            "tickSize": -7, "tickColor": "#666666", "tickWidth": 2,
            "titleFontSize": 19, "titleFontWeight": "normal", "titleColor": "#1a1a1a",
            "titleX": -79, "titleY": 128, "titleAlign": "center", "titleBaseline": "middle", "titleAnchor": null, "titleAngle": -90
          }
        },
        "color": {
          "field": "Series", "type": "nominal",
          "scale": {"domain": ["GDM-RO", "UF-RO"], "range": ["#c00000", "#0000ff"]},
          "legend": {
            "title": null, "orient": "none", "legendX": 28, "legendY": 13,
            "labelFontSize": 19, "labelColor": "#1a1a1a", "symbolSize": 40, "symbolStrokeWidth": 1.5,
            "rowPadding": 16, "padding": 0, "labelOffset": 3, "symbolType": "circle"
          }
        }
      }
    },
    {
      "data": {"name": "abund"},
      "mark": {"type": "bar", "stroke": "white", "strokeWidth": 0.5},
      "encoding": {
        "x": {
          "field": "sample", "type": "nominal",
          "scale": {"domain": ["GDM-RO", "UF-RO"], "range": [195, 295], "paddingInner": 0.33, "paddingOuter": 0.19},
          "axis": {"orient": "bottom", "offset": -132, "labels": false, "ticks": false, "title": null, "domainColor": "#000000", "domainWidth": 1.5}
        },
        "y": {
          "field": "share", "type": "quantitative", "stack": "zero",
          "scale": {"domain": [0, 1], "range": [148, 10], "nice": false},
          "axis": {
            "orient": "left", "offset": -195, "values": [0, 0.2, 0.4, 0.6, 0.8, 1.0], "format": ".0%",
            "labelFontSize": 10.5, "labelColor": "#404040", "labelPadding": 12,
            "tickSize": -3, "tickColor": "#000000", "domainColor": "#000000", "domainWidth": 1.5,
            "title": "Relative abundance", "titleFontSize": 10.5, "titleFontWeight": "normal", "titleColor": "#1a1a1a",
            "titleX": -40, "titleY": 85, "titleAlign": "center", "titleBaseline": "middle", "titleAnchor": null, "titleAngle": -90
          }
        },
        "order": {"field": "k", "type": "quantitative"},
        "color": {
          "field": "taxon", "type": "nominal", "legend": null,
          "scale": {
            "domain": ["T01", "T02", "T03", "T04", "T05", "T06", "T07", "T08", "T09", "T10", "T11", "T12", "T13"],
            "range": ["#c5dbb6", "#f5c3b4", "#a6c3e6", "#fecb76", "#b6bdcb", "#79ad59", "#d2b4a4", "#e9977c", "#5d9a40", "#959595", "#e0762c", "#d3d3d3", "#a9cf94"]
          }
        }
      }
    },
    {
      "data": {"name": "abund"},
      "mark": {"type": "bar", "opacity": 0},
      "encoding": {
        "x": {
          "field": "sample", "type": "nominal",
          "scale": {"domain": ["GDM-RO", "UF-RO"], "range": [195, 295], "paddingInner": 0.33, "paddingOuter": 0.19},
          "axis": {"orient": "top", "offset": -10, "labels": false, "ticks": false, "title": null, "domainColor": "#333333", "domainWidth": 2}
        },
        "y": {
          "field": "share", "type": "quantitative", "stack": "zero",
          "scale": {"domain": [0, 1], "range": [148, 10], "nice": false},
          "axis": {"orient": "right", "offset": -60, "labels": false, "ticks": false, "title": null, "domainColor": "#000000", "domainWidth": 1.5}
        }
      }
    }
  ],
  "resolve": {"scale": {"x": "independent", "y": "independent", "color": "independent"}}
}
